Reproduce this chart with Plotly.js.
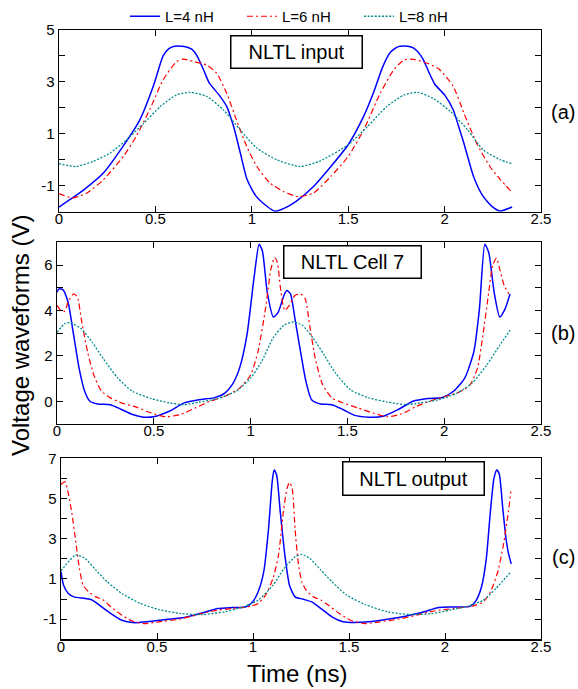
<!DOCTYPE html>
<html>
<head>
<meta charset="utf-8">
<script src="https://cdn.plot.ly/plotly-3.0.1.min.js"></script>
<style>html,body{margin:0;padding:0;background:#fff;}#chart{width:578px;height:689px;}</style>
</head>
<body>
<div id="chart"></div>
<script>
// ---------- Data (time in ns, voltage in V) ----------
const seriesNames = ['L=4 nH', 'L=6 nH', 'L=8 nH'];
const panelLabels = ['(a)', '(b)', '(c)'];
const panelTitles = ['NLTL input', 'NLTL Cell 7', 'NLTL output'];
const xTickVals = [0, 0.5, 1, 1.5, 2, 2.5];
const xTickText = ['0', '0.5', '1', '1.5', '2', '2.5'];

// Panel (a) NLTL input
const tA4 = [0,0.06,0.13,0.23,0.33,0.42,0.49,0.54,0.57,0.60,0.65,0.69,0.72,0.75,0.78,0.83,0.87,0.905,0.94,0.975,1.02,1.08,1.12,1.17,1.23,1.32,1.41,1.50,1.58,1.63,1.68,1.72,1.76,1.81,1.84,1.87,1.89,1.92,1.95,2.0,2.045,2.07,2.1,2.15,2.2,2.25,2.29,2.35];
const vA4 = [-1.82,-1.52,-1.15,-0.51,0.5,1.55,2.85,4.0,4.28,4.37,4.36,4.25,3.95,3.46,2.95,2.5,2.05,1.3,0.28,-0.75,-1.38,-1.8,-1.98,-1.86,-1.6,-1.03,-0.26,0.58,1.67,2.56,3.6,4.15,4.36,4.37,4.3,4.08,3.85,3.35,2.9,2.5,1.92,1.35,0.64,-0.64,-1.41,-1.82,-1.97,-1.82];
const tA6 = [0,0.07,0.14,0.23,0.334,0.40,0.47,0.54,0.61,0.645,0.70,0.766,0.818,0.87,0.92,0.974,1.026,1.095,1.164,1.24,1.32,1.41,1.50,1.58,1.666,1.736,1.79,1.84,1.91,1.97,2.045,2.1,2.166,2.235,2.29,2.35];
const vA6 = [-1.3,-1.47,-1.3,-0.77,0.13,0.9,1.92,3.08,3.78,3.88,3.78,3.65,3.33,2.56,1.54,0.51,-0.26,-0.9,-1.22,-1.42,-1.28,-0.64,0.13,1.15,2.56,3.46,3.85,3.87,3.72,3.5,2.82,1.8,0.64,-0.26,-0.77,-1.26];
const tA8 = [0,0.087,0.178,0.265,0.35,0.44,0.525,0.61,0.68,0.766,0.853,0.94,1.026,1.13,1.25,1.35,1.5,1.6,1.7,1.79,1.86,1.94,2.03,2.12,2.2,2.29,2.35];
const vA8 = [-0.15,-0.26,-0.06,0.26,0.77,1.41,2.05,2.5,2.6,2.44,1.92,1.15,0.45,0.0,-0.26,-0.06,0.58,1.28,2.05,2.5,2.6,2.37,1.86,1.15,0.38,0.0,-0.15];

// Panel (b) NLTL Cell 7
const tB4 = [0,0.01,0.03,0.057,0.086,0.114,0.143,0.17,0.21,0.276,0.333,0.39,0.448,0.505,0.58,0.657,0.733,0.81,0.867,0.905,0.943,0.981,1.019,1.044,1.061,1.086,1.118,1.143,1.172,1.187,1.206,1.229,1.258,1.286,1.315,1.362,1.42,1.477,1.534,1.61,1.686,1.763,1.839,1.915,1.991,2.048,2.106,2.153,2.182,2.21,2.23,2.258,2.287,2.315,2.34];
const vB4 = [4.8,4.95,4.92,4.37,2.91,1.46,0.44,0.0,-0.12,-0.15,-0.36,-0.58,-0.7,-0.67,-0.44,-0.07,0.07,0.15,0.36,0.73,1.46,2.91,5.53,6.91,6.62,4.8,3.71,3.93,4.66,4.88,4.73,3.64,2.18,0.87,0.07,-0.12,-0.15,-0.36,-0.61,-0.7,-0.66,-0.36,0.0,0.12,0.17,0.44,1.02,2.18,4.08,6.91,6.55,4.8,3.71,4.08,4.73];
const tB6 = [0,0.02,0.04,0.057,0.086,0.105,0.128,0.158,0.19,0.23,0.276,0.333,0.41,0.486,0.562,0.638,0.715,0.79,0.867,0.943,1.0,1.038,1.077,1.105,1.124,1.138,1.157,1.176,1.2,1.229,1.258,1.282,1.305,1.334,1.372,1.42,1.477,1.553,1.63,1.705,1.782,1.858,1.934,2.01,2.087,2.134,2.172,2.2,2.23,2.25,2.27,2.287,2.31,2.334];
const vB6 = [4.22,4.0,3.96,4.37,4.73,4.59,3.49,2.18,1.16,0.44,0.15,-0.07,-0.26,-0.51,-0.68,-0.58,-0.29,0.0,0.22,0.58,1.16,2.18,4.08,5.82,6.33,6.11,4.8,4.0,4.22,4.66,4.73,4.51,3.35,1.89,0.73,0.15,-0.07,-0.29,-0.51,-0.68,-0.55,-0.22,0.03,0.22,0.44,0.73,1.46,2.91,4.8,5.97,6.3,5.82,5.09,4.73];
const tB8 = [0,0.04,0.067,0.124,0.18,0.238,0.314,0.39,0.486,0.58,0.657,0.733,0.83,0.924,1.0,1.057,1.115,1.172,1.22,1.267,1.324,1.38,1.439,1.515,1.61,1.705,1.8,1.877,1.972,2.067,2.144,2.22,2.287,2.34];
const vB8 = [3.03,3.42,3.46,3.2,2.62,1.89,1.02,0.44,0.12,-0.07,-0.15,-0.04,0.12,0.44,1.02,1.75,2.77,3.35,3.49,3.35,2.77,2.04,1.24,0.51,0.15,-0.03,-0.15,-0.07,0.07,0.36,0.8,1.6,2.47,3.13];

// Panel (c) NLTL output
const tC4 = [0,0.013,0.038,0.067,0.125,0.163,0.2,0.26,0.317,0.374,0.45,0.547,0.643,0.74,0.816,0.893,0.96,0.998,1.027,1.056,1.081,1.1,1.11,1.123,1.142,1.166,1.19,1.219,1.258,1.306,1.354,1.411,1.469,1.527,1.603,1.7,1.795,1.891,1.968,2.045,2.13,2.16,2.19,2.215,2.235,2.255,2.27,2.283,2.3,2.318,2.33,2.345];
const vC4 = [1.36,0.7,0.28,0.11,0.03,-0.05,-0.3,-0.72,-1.05,-1.17,-1.13,-1.02,-0.92,-0.68,-0.47,-0.42,-0.39,-0.14,0.36,1.36,3.51,5.84,6.42,6.17,4.34,2.19,0.69,0.11,0.0,-0.14,-0.47,-0.88,-1.13,-1.17,-1.13,-1.0,-0.85,-0.63,-0.42,-0.39,-0.36,-0.1,0.6,2.0,4.2,6.0,6.42,6.2,4.6,3.0,2.3,1.75];
const tC6 = [0,0.02,0.04,0.058,0.077,0.096,0.115,0.144,0.182,0.22,0.26,0.317,0.374,0.432,0.509,0.605,0.7,0.797,0.893,0.99,1.027,1.066,1.104,1.133,1.158,1.177,1.19,1.204,1.219,1.235,1.254,1.277,1.315,1.354,1.392,1.45,1.507,1.584,1.66,1.757,1.853,1.949,2.045,2.14,2.2,2.237,2.275,2.304,2.33,2.343];
const vC6 = [5.7,5.84,5.17,4.18,2.85,1.52,0.69,0.36,0.11,-0.05,-0.39,-0.8,-1.1,-1.22,-1.13,-1.02,-0.8,-0.58,-0.47,-0.35,-0.22,0.2,1.02,2.19,4.34,5.5,5.8,5.5,3.51,1.86,0.86,0.44,0.11,-0.05,-0.3,-0.72,-1.05,-1.22,-1.13,-1.0,-0.8,-0.58,-0.47,-0.35,-0.14,0.36,1.36,2.68,4.34,5.34];
const tC8 = [0,0.077,0.125,0.182,0.24,0.317,0.413,0.509,0.624,0.74,0.854,0.95,1.027,1.104,1.162,1.219,1.254,1.296,1.354,1.411,1.488,1.584,1.7,1.815,1.93,2.026,2.122,2.2,2.266,2.343];
const vC8 = [1.4,2.19,2.02,1.44,0.86,0.28,-0.22,-0.52,-0.72,-0.77,-0.63,-0.39,-0.05,0.69,1.52,2.1,2.22,2.02,1.44,0.86,0.2,-0.27,-0.63,-0.77,-0.72,-0.55,-0.34,-0.05,0.53,1.36];

// ---------- Styles ----------
const FONT = 'Liberation Sans, Arial, Helvetica, sans-serif';
const lineStyles = [
  {color: '#0000ff', width: 1.5, dash: 'solid'},
  {color: '#ff0000', width: 1.2, dash: '6px,3px,2px,3px'},
  {color: '#008c8c', width: 1.3, dash: '2px,1.6px'}
];

const panels = [
  {xs: [tA4, tA6, tA8], ys: [vA4, vA6, vA8]},
  {xs: [tB4, tB6, tB8], ys: [vB4, vB6, vB8]},
  {xs: [tC4, tC6, tC8], ys: [vC4, vC6, vC8]}
];

const traces = [];
panels.forEach((p, pi) => {
  for (let s = 0; s < 3; s++) {
    traces.push({
      x: p.xs[s], y: p.ys[s], type: 'scatter', mode: 'lines',
      name: seriesNames[s], legendgroup: seriesNames[s], showlegend: pi === 0,
      line: Object.assign({shape: 'spline', smoothing: 0.6}, lineStyles[s]),
      xaxis: pi === 0 ? 'x' : 'x' + (pi + 1),
      yaxis: pi === 0 ? 'y' : 'y' + (pi + 1),
      hoverinfo: 'skip'
    });
  }
});

const W = 578, H = 689;
function xd(l, r) { return [l / W, r / W]; }
function yd(t, b) { return [1 - b / H, 1 - t / H]; }

function xAxis(dom, anchor) {
  return {
    domain: dom, anchor: anchor, range: [0, 2.5],
    tickvals: xTickVals, ticktext: xTickText,
    ticks: 'inside', ticklen: 6, tickwidth: 1, tickcolor: '#000',
    showline: true, linecolor: '#000', linewidth: 1.3, mirror: 'ticks',
    showgrid: false, zeroline: false, ticklabelstandoff: -7,
    tickfont: {family: FONT, size: 15, color: '#000'}
  };
}
function yAxis(dom, anchor, range, vals, texts) {
  return {
    domain: dom, anchor: anchor, range: range,
    tickvals: vals, ticktext: texts,
    ticks: 'inside', ticklen: 6, tickwidth: 1, tickcolor: '#000',
    showline: true, linecolor: '#000', linewidth: 1.3, mirror: 'ticks',
    showgrid: false, zeroline: false,
    tickfont: {family: FONT, size: 15, color: '#000'}
  };
}

const boxAnn = (text, cx, cy, w, h) => ({
  text: text, xref: 'paper', yref: 'paper', x: cx / W, y: 1 - cy / H,
  xanchor: 'center', yanchor: 'middle', showarrow: false,
  font: {family: FONT, size: 20, color: '#000'},
  bordercolor: '#000', borderwidth: 1.5, borderpad: 3, bgcolor: '#fff',
  width: w, height: h
});
const plainAnn = (text, cx, cy, size, angle) => ({
  text: text, xref: 'paper', yref: 'paper', x: cx / W, y: 1 - cy / H,
  xanchor: 'center', yanchor: 'middle', showarrow: false, textangle: angle || 0,
  font: {family: FONT, size: size, color: '#000'}
});

const layout = {
  width: W, height: H, autosize: false,
  margin: {l: 0, r: 0, t: 0, b: 0, autoexpand: false},
  paper_bgcolor: '#fff', plot_bgcolor: '#fff',
  font: {family: FONT, color: '#000'},
  showlegend: true,
  legend: {
    orientation: 'h', x: 125 / W, xanchor: 'left', y: 1, yanchor: 'top',
    font: {family: FONT, size: 15, color: '#000'},
    entrywidth: 72, entrywidthmode: 'pixels', bgcolor: 'rgba(0,0,0,0)', traceorder: 'normal'
  },
  xaxis: xAxis(xd(59, 541), 'y'),
  yaxis: yAxis(yd(30, 211.7), 'x', [-2, 5], [-1,0,1,2,3,4,5], ['-1','','1','','3','','5']),
  xaxis2: xAxis(xd(57, 541), 'y2'),
  yaxis2: yAxis(yd(242.3, 424), 'x2', [-1, 7], [0,1,2,3,4,5,6], ['0','','2','','4','','6']),
  xaxis3: xAxis(xd(61, 541), 'y3'),
  yaxis3: yAxis(yd(458.3, 639.3), 'x3', [-2, 7], [-1,0,1,2,3,4,5,6,7], ['-1','','1','','3','','5','','7']),
  annotations: [
    boxAnn(panelTitles[0], 296, 51.5, 124, 25),
    boxAnn(panelTitles[1], 352, 262.5, 130, 25),
    boxAnn(panelTitles[2], 413, 478.7, 134, 26),
    plainAnn(panelLabels[0], 563, 112, 20),
    plainAnn(panelLabels[1], 563, 333, 20),
    plainAnn(panelLabels[2], 563, 557, 20),
    plainAnn('Voltage waveforms (V)', 20, 336, 24, -90),
    plainAnn('Time (ns)', 297, 673, 24)
  ]
};

Plotly.newPlot('chart', traces, layout, {staticPlot: true, displayModeBar: false});
</script>
</body>
</html>
